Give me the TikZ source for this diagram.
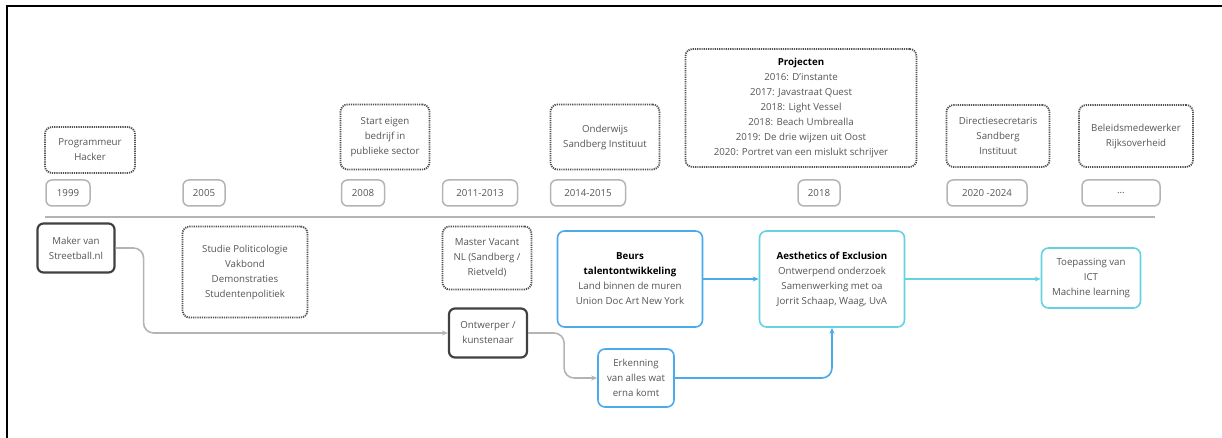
\documentclass[tikz,border=0pt]{standalone}
\usepackage{fontspec}
\setmainfont{Open Sans}
\usetikzlibrary{arrows.meta}
\definecolor{textgray}{RGB}{85,85,85}
\definecolor{dotgray}{RGB}{80,80,80}
\definecolor{yeargray}{RGB}{180,180,180}
\definecolor{keygray}{RGB}{65,65,65}
\definecolor{beursblue}{RGB}{75,170,235}
\definecolor{aesthcyan}{RGB}{100,210,225}
\begin{document}
\begin{tikzpicture}
[x=1pt,y=-1pt,
  every node/.style={font=\fontsize{9.7}{15}\selectfont,text=textgray,align=center,inner sep=1pt},%
  yeardecorate/.style={shape=rectangle,rounded corners=6pt,draw=yeargray,line width=1.5pt,minimum height=26pt},%
  eventdecorate/.style={shape=rectangle,rounded corners=7pt,draw=dotgray,dash pattern=on 1.2pt off 1pt,line width=1.8pt},%
  keydecorate/.style={shape=rectangle,rounded corners=6pt,draw=keygray,line width=2.2pt},%
  bluedecorate/.style={shape=rectangle,rounded corners=7pt,draw=beursblue,line width=1.6pt},%
  cyandecorate/.style={shape=rectangle,rounded corners=7pt,draw=aesthcyan,line width=1.6pt},%
  linedecorate/.style={-{Stealth[length=6pt,width=5pt]},line width=1.6pt,rounded corners=10pt}]
\useasboundingbox (0,0) rectangle (1222,438);
%% frame and time line
\draw[line width=2pt] (7,438) -- (7,6) -- (1222,6);
\draw[yeargray,line width=1.3pt] (45,217) -- (1155,217);
%% years
\foreach \nodename/\x/\w/\yearlabel in {y1999/68/44/1999, y2005/204/42/2005,
  y2008/363/43/2008, y2011/480/75/2011-2013, y2014/588/75/2014-2015,
  y2018/819/42/2018, y2020/987/80/2020 -2024, ydots/1121/78/\ldots} {
  \node (\nodename) at (\x,193) [yeardecorate,minimum width=\w pt] {\yearlabel};
}
%% events above the line
\node (prog) at (90,150) [eventdecorate,minimum width=90pt,minimum height=46pt] {Programmeur\\Hacker};
\node (start) at (385,137) [eventdecorate,minimum width=89pt,minimum height=65pt] {Start eigen\\bedrijf in\\publieke sector};
\node (onderwijs) at (605,137) [eventdecorate,minimum width=109pt,minimum height=65pt] {Onderwijs\\Sandberg Instituut};
\node (projecten) at (801,108) [eventdecorate,minimum width=231pt,minimum height=118pt]
  {\textbf{\color{black}Projecten}\\2016: D'instante\\2017: Javastraat Quest\\2018: Light Vessel\\2018: Beach Umbrealla\\2019: De drie wijzen uit Oost\\2020: Portret van een mislukt schrijver};
\node (directie) at (998,136) [eventdecorate,minimum width=103pt,minimum height=62pt] {Directiesecretaris\\Sandberg\\Instituut};
\node (beleid) at (1136,136) [eventdecorate,minimum width=114pt,minimum height=62pt] {Beleidsmedewerker\\Rijksoverheid};
%% events below the line
\node (maker) at (76,248) [keydecorate,minimum width=77pt,minimum height=49pt] {Maker van\\Streetball.nl};
\node (studie) at (245,272) [eventdecorate,minimum width=125pt,minimum height=91pt] {Studie Politicologie\\Vakbond\\Demonstraties\\Studentenpolitiek};
\node (master) at (487,258) [eventdecorate,minimum width=89pt,minimum height=63pt] {Master Vacant\\NL (Sandberg /\\Rietveld)};
\node (ontwerper) at (488,333) [keydecorate,minimum width=78pt,minimum height=49pt] {Ontwerper /\\kunstenaar};
\node (beurs) at (630,279) [bluedecorate,minimum width=145pt,minimum height=96pt]
  {\textbf{\color{black}Beurs}\\\textbf{\color{black}talentontwikkeling}\\Land binnen de muren\\Union Doc Art New York};
\node (erkenning) at (636,378) [bluedecorate,minimum width=76pt,minimum height=58pt] {Erkenning\\van alles wat\\erna komt};
\node (aesth) at (832,279) [cyandecorate,minimum width=145pt,minimum height=96pt]
  {\textbf{\color{black}Aesthetics of Exclusion}\\Ontwerpend onderzoek\\Samenwerking met oa\\Jorrit Schaap, Waag, UvA};
\node (toepassing) at (1091,278) [cyandecorate,minimum width=99pt,minimum height=60pt] {Toepassing van\\ICT\\Machine learning};
%% connectors
\draw[linedecorate,yeargray] (maker.east) -- ++(28,0) |- (ontwerper.west);
\draw[linedecorate,yeargray] (ontwerper.east) -- ++(36,0) |- (erkenning.west);
\draw[linedecorate,beursblue] (beurs.east) -- (aesth.west);
\draw[linedecorate,beursblue] (erkenning.east) -| (aesth.south);
\draw[linedecorate,aesthcyan] (aesth.east) -- (aesth.east -| toepassing.west);
\end{tikzpicture}
\end{document}
